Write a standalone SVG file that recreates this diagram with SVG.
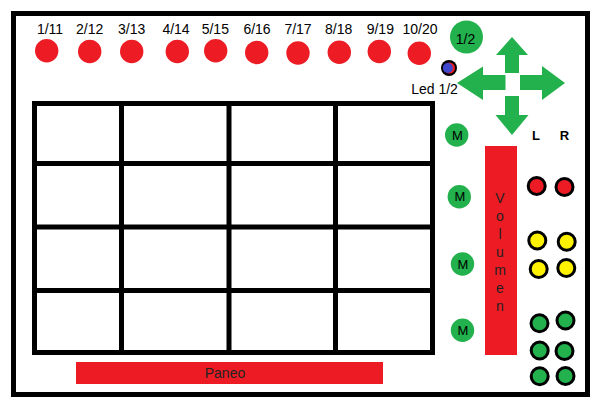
<svg xmlns="http://www.w3.org/2000/svg" width="595" height="401" viewBox="0 0 595 401">
<style>
text{font-family:"Liberation Sans",Arial,sans-serif;font-size:14px;fill:#000;text-anchor:middle}
.red{fill:#ED1C24}
.grn{fill:#22B14C}
.line{stroke:#000;stroke-width:5;fill:none}
.led{stroke:#000;stroke-width:3}
.b{font-weight:bold;font-size:13px}
.v{font-size:14px;fill:#222}
</style>
<rect width="595" height="401" fill="#fff"/>
<g id="frame"><rect class="line" x="13.5" y="13.5" width="574" height="381"/></g>
<g id="grid">
<rect class="line" x="34.5" y="103.5" width="398" height="249"/>
<path class="line" d="M121.5 103.5V352.5M229 103.5V352.5M335.5 103.5V352.5M34.5 163.5H432.5M34.5 227H432.5M34.5 290.5H432.5"/>
</g>
<g id="channels">
<g id="ch1"><text x="50" y="34">1/11</text><circle class="red" cx="46.7" cy="50.7" r="11.7"/></g>
<g id="ch2"><text x="89.7" y="34">2/12</text><circle class="red" cx="89.7" cy="51.5" r="11.7"/></g>
<g id="ch3"><text x="131.7" y="34">3/13</text><circle class="red" cx="131.7" cy="51.5" r="11.7"/></g>
<g id="ch4"><text x="176" y="34">4/14</text><circle class="red" cx="177.3" cy="51.5" r="11.7"/></g>
<g id="ch5"><text x="215.3" y="34">5/15</text><circle class="red" cx="215.7" cy="50.7" r="11.7"/></g>
<g id="ch6"><text x="257" y="34">6/16</text><circle class="red" cx="256.7" cy="52.5" r="11.7"/></g>
<g id="ch7"><text x="298" y="34">7/17</text><circle class="red" cx="298" cy="53" r="11.7"/></g>
<g id="ch8"><text x="338.7" y="34">8/18</text><circle class="red" cx="339.3" cy="52.3" r="11.7"/></g>
<g id="ch9"><text x="380.3" y="34">9/19</text><circle class="red" cx="379.3" cy="51.5" r="11.7"/></g>
<g id="ch10"><text x="420" y="34">10/20</text><circle class="red" cx="419.3" cy="53.3" r="11.7"/></g>
</g>
<g id="btn12"><circle class="grn" cx="466.5" cy="37" r="16.5"/><text x="465.5" y="43.5">1/2</text></g>
<g id="led12">
<circle cx="449" cy="68" r="8" fill="#000"/>
<circle cx="449.5" cy="68" r="5.5" fill="#ED1C24"/>
<circle cx="447.8" cy="68" r="5" fill="#3F48CC"/>
<text x="434.5" y="94">Led 1/2</text>
</g>
<g id="dpad" class="grn">
<polygon points="512,37 528,55 519,55 519,73 505,73 505,55 496,55"/>
<polygon points="512,135 528.5,115 519,115 519,96 505,96 505,115 495.5,115"/>
<polygon points="457,83 483,66.5 483,75 505.5,75 505.5,90 483,90 483,100"/>
<polygon points="565,83 542,66 542,75 520,75 520,90 542,90 542,100"/>
</g>
<g id="mutes">
<g id="m1"><circle class="grn" cx="456.7" cy="135" r="11.7"/><text x="457.5" y="139.5" style="font-size:13px">M</text></g>
<g id="m2"><circle class="grn" cx="459.3" cy="196.7" r="11.7"/><text x="459.8" y="201.2" style="font-size:13px">M</text></g>
<g id="m3"><circle class="grn" cx="462.5" cy="264" r="11.7"/><text x="463" y="268.5" style="font-size:13px">M</text></g>
<g id="m4"><circle class="grn" cx="462.5" cy="330.3" r="11.7"/><text x="463" y="334.8" style="font-size:13px">M</text></g>
</g>
<g id="volumen">
<rect class="red" x="485" y="146" width="32" height="209"/>
<text class="v" x="500" y="203">V</text>
<text class="v" x="500" y="221">o</text>
<text class="v" x="500" y="239">l</text>
<text class="v" x="500" y="257">u</text>
<text class="v" x="500" y="275">m</text>
<text class="v" x="500" y="293">e</text>
<text class="v" x="500" y="311">n</text>
</g>
<g id="paneo">
<rect class="red" x="76" y="362" width="307" height="22"/>
<text x="225" y="378" style="fill:#222">Paneo</text>
</g>
<g id="meters">
<text class="b" x="536" y="140">L</text>
<text class="b" x="564.5" y="140">R</text>
<circle class="led" fill="#ED1C24" cx="536.7" cy="186" r="8.5"/>
<circle class="led" fill="#ED1C24" cx="564.5" cy="187" r="8.5"/>
<circle class="led" fill="#FFF200" cx="537.3" cy="240.5" r="8.5"/>
<circle class="led" fill="#FFF200" cx="566.7" cy="241.7" r="8.5"/>
<circle class="led" fill="#FFF200" cx="538.7" cy="269" r="8.5"/>
<circle class="led" fill="#FFF200" cx="566.3" cy="268" r="8.5"/>
<circle class="led" fill="#22B14C" cx="539.5" cy="323.3" r="8.5"/>
<circle class="led" fill="#22B14C" cx="565.5" cy="320.5" r="8.5"/>
<circle class="led" fill="#22B14C" cx="539.7" cy="350.5" r="8.5"/>
<circle class="led" fill="#22B14C" cx="564.5" cy="351" r="8.5"/>
<circle class="led" fill="#22B14C" cx="539.7" cy="376.3" r="8.5"/>
<circle class="led" fill="#22B14C" cx="565.5" cy="376" r="8.5"/>
</g>
</svg>
